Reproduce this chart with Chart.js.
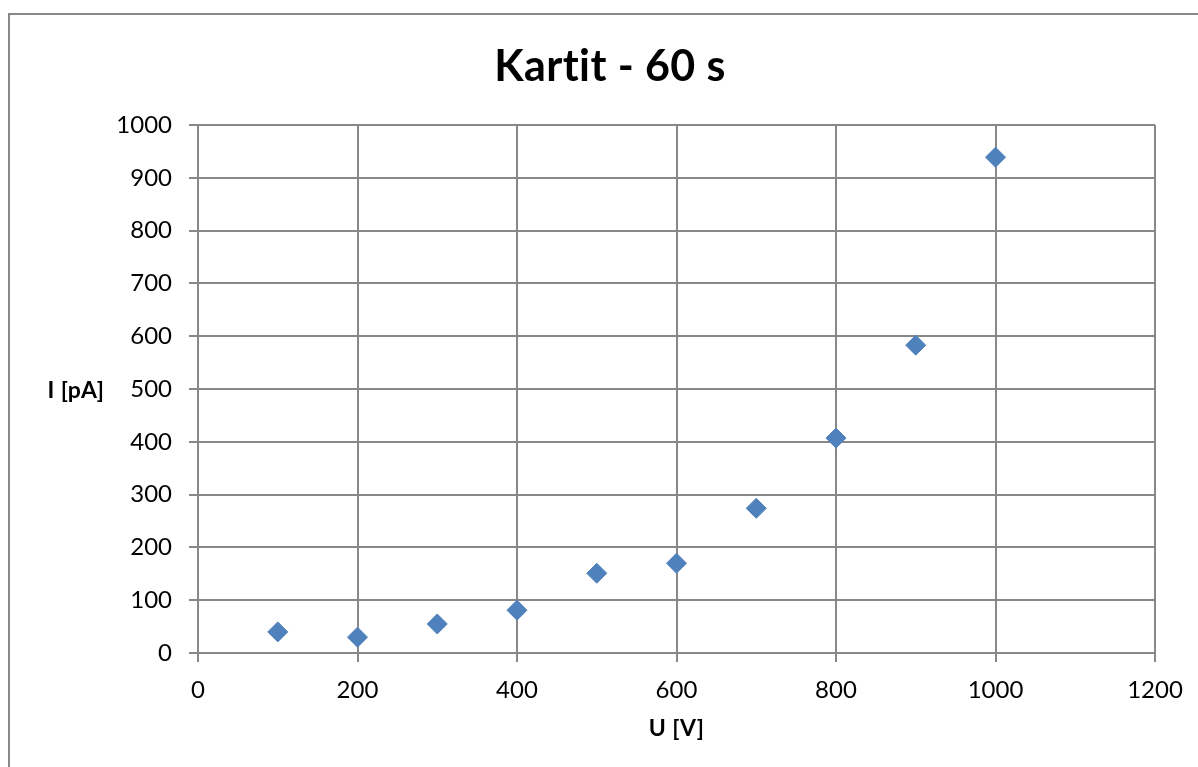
<!DOCTYPE html>
<html>
<head>
<meta charset="utf-8">
<title>Kartit - 60 s</title>
<script src="https://cdn.jsdelivr.net/npm/chart.js@4/dist/chart.umd.min.js"></script>
<style>
  html, body { margin: 0; padding: 0; background: #fff; overflow: hidden; }
  #wrap { position: relative; width: 1198px; height: 767px; }
</style>
</head>
<body>
<div id="wrap"><canvas id="chart" width="1198" height="767"></canvas></div>
<script>
// Measurements: applied voltage U [V] and measured current I [pA]
const voltages = [100, 200, 300, 400, 500, 600, 700, 800, 900, 1000];
const currents = [40, 30, 55, 81, 151, 170, 274, 407, 583, 939];

const chartTitle = 'Kartit - 60 s';
const xAxisTitle = 'U [V]';
const yAxisTitle = 'I [pA]';

const FONT = 'Lato, "Open Sans", "DejaVu Sans", sans-serif';
const GRID = '#888888';

// Frame, title and horizontal axis captions
const decorations = {
  id: 'decorations',
  beforeDraw(chart) {
    const ctx = chart.ctx;
    ctx.save();
    ctx.fillStyle = '#ffffff';
    ctx.fillRect(0, 0, chart.width, chart.height);
    ctx.strokeStyle = GRID;
    ctx.lineWidth = 2;
    ctx.strokeRect(9, 14, chart.width + 20, chart.height + 20);
    ctx.restore();
  },
  afterDraw(chart) {
    const ctx = chart.ctx;
    const area = chart.chartArea;
    ctx.save();
    ctx.fillStyle = '#000000';
    ctx.textAlign = 'center';
    ctx.textBaseline = 'alphabetic';
    ctx.letterSpacing = '0.4px';
    ctx.font = 'bold 43px ' + FONT;
    ctx.fillText(chartTitle, 610, 81);
    ctx.font = 'bold 23px ' + FONT;
    ctx.textBaseline = 'middle';
    ctx.fillText(xAxisTitle, (area.left + area.right) / 2, 729);
    ctx.fillText(yAxisTitle, 76, 391);
    ctx.restore();
  }
};

const plainNumber = (v) => String(v);

new Chart(document.getElementById('chart'), {
  type: 'scatter',
  data: {
    datasets: [{
      label: yAxisTitle,
      data: voltages.map((u, i) => ({ x: u, y: currents[i] })),
      pointStyle: 'rectRot',
      pointRadius: 10,
      pointHoverRadius: 10,
      backgroundColor: '#4F81BD',
      borderColor: '#4F81BD',
      borderWidth: 1
    }]
  },
  options: {
    responsive: false,
    animation: false,
    layout: { padding: { top: 125, right: 43, left: 0, bottom: 0 } },
    plugins: {
      legend: { display: false },
      title: { display: false },
      tooltip: { enabled: false }
    },
    scales: {
      x: {
        type: 'linear',
        min: 0,
        max: 1200,
        ticks: {
          stepSize: 200,
          color: '#000',
          font: { family: FONT, size: 24 },
          padding: 14,
          maxRotation: 0,
          callback: plainNumber
        },
        grid: { color: GRID, lineWidth: 2, tickLength: 9, drawTicks: true },
        border: { color: GRID, width: 2 },
        afterFit(scale) { scale.height = 767 - 653; }
      },
      y: {
        type: 'linear',
        min: 0,
        max: 1000,
        ticks: {
          stepSize: 100,
          color: '#000',
          font: { family: FONT, size: 24 },
          padding: 17,
          callback: plainNumber
        },
        grid: { color: GRID, lineWidth: 2, tickLength: 9, drawTicks: true },
        border: { color: GRID, width: 2 },
        afterFit(scale) { scale.width = 198; }
      }
    }
  },
  plugins: [decorations]
});
</script>
</body>
</html>
